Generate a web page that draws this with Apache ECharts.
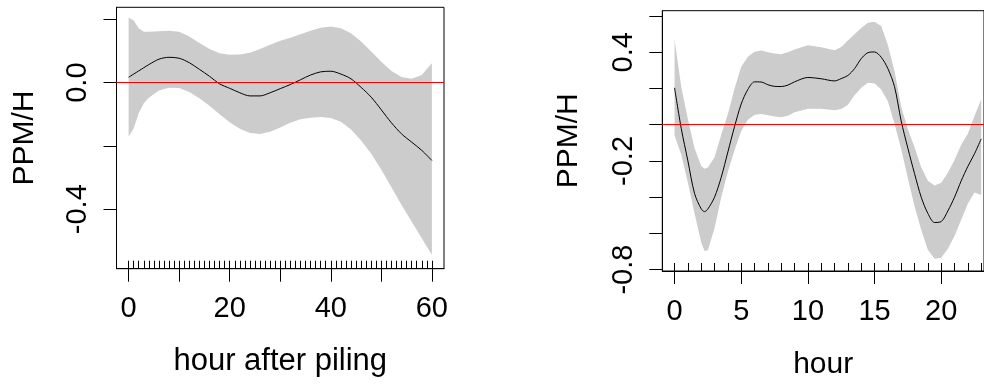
<!DOCTYPE html>
<html>
<head>
<meta charset="utf-8">
<script src="https://cdn.jsdelivr.net/npm/echarts@6/dist/echarts.min.js"></script>
<style>
html,body{margin:0;padding:0;background:#fff;}
#c{width:984px;height:385px;}
</style>
</head>
<body>
<div id="c"></div>
<script>
// ---- Left panel: hour after piling ----
const leftX = [0,1,2,3,4,6,8,10,12,14,16,18,20,22,24,26,28,30,32,34,36,38,40,42,44,46,48,50,52,54,56,58,60];
const leftMean = [0.017,0.027,0.037,0.047,0.057,0.074,0.080,0.077,0.063,0.042,0.020,-0.004,-0.018,-0.032,-0.042,-0.042,-0.032,-0.019,-0.006,0.009,0.024,0.034,0.036,0.027,0.012,-0.015,-0.046,-0.086,-0.127,-0.162,-0.188,-0.214,-0.246];
const leftUpper = [0.206,0.196,0.172,0.161,0.161,0.162,0.164,0.161,0.146,0.125,0.106,0.093,0.088,0.089,0.094,0.106,0.120,0.132,0.142,0.153,0.164,0.173,0.177,0.172,0.156,0.130,0.098,0.066,0.037,0.018,0.012,0.024,0.061];
const leftLower = [-0.171,-0.144,-0.097,-0.065,-0.048,-0.025,-0.016,-0.017,-0.030,-0.049,-0.073,-0.100,-0.125,-0.146,-0.159,-0.162,-0.155,-0.142,-0.127,-0.116,-0.111,-0.109,-0.112,-0.124,-0.148,-0.183,-0.225,-0.275,-0.331,-0.387,-0.439,-0.492,-0.544];
const leftRug = [0,1,2,3,4,5,6,7,8,9,10,11,12,13,14,15,16,17,18,19,20,21,22,23,24,25,26,27,28,29,30,31,32,33,34,35,36,37,38,39,40,41,42,43,44,45,46,47,48,49,50,51,52,53,54,55,56,57,58,59,60];
const leftXTicks = [0,10,20,30,40,50,60];
const leftXLabels = [0,20,40,60];
const leftYTicks = [-0.4,-0.2,0,0.2];
const leftYLabels = [-0.4,0];

// ---- Right panel: hour ----
const rightX = [0,0.5,1,1.5,2,2.25,2.5,3,3.5,4,4.5,5,5.5,6,6.5,7,7.5,8,8.5,9,10,11,12,12.5,13,13.5,14,14.5,15,15.5,16,16.5,17,17.5,18,18.5,19,19.5,20,20.5,21,21.5,22,22.5,23];
const rightMean = [0.204,-0.020,-0.200,-0.380,-0.465,-0.480,-0.465,-0.400,-0.290,-0.150,-0.010,0.115,0.195,0.237,0.236,0.221,0.212,0.211,0.219,0.237,0.261,0.254,0.242,0.255,0.272,0.310,0.365,0.398,0.402,0.373,0.310,0.210,0.020,-0.130,-0.270,-0.400,-0.490,-0.540,-0.535,-0.476,-0.400,-0.310,-0.230,-0.160,-0.078];
const rightUpper = [0.469,0.210,0.030,-0.130,-0.228,-0.243,-0.236,-0.180,-0.055,0.060,0.200,0.320,0.375,0.403,0.410,0.400,0.393,0.390,0.400,0.415,0.439,0.428,0.412,0.430,0.465,0.500,0.535,0.564,0.569,0.545,0.440,0.295,0.100,-0.025,-0.125,-0.235,-0.310,-0.335,-0.320,-0.265,-0.195,-0.110,-0.050,0.050,0.140];
const rightLower = [-0.060,-0.165,-0.320,-0.490,-0.650,-0.698,-0.693,-0.570,-0.400,-0.260,-0.140,-0.035,0.027,0.055,0.060,0.053,0.045,0.041,0.050,0.069,0.089,0.088,0.080,0.087,0.110,0.163,0.205,0.232,0.228,0.195,0.130,0.005,-0.135,-0.295,-0.450,-0.580,-0.690,-0.740,-0.735,-0.685,-0.615,-0.525,-0.435,-0.375,-0.388];
const rightRug = [0,1,2,3,4,5,6,7,8,9,10,11,12,13,14,15,16,17,18,19,20,21,22,23];
const rightXTicks = [0,5,10,15,20];
const rightXLabels = [0,5,10,15,20];
const rightYTicks = [-0.8,-0.6,-0.4,-0.2,0,0.2,0.4,0.6];
const rightYLabels = [-0.8,-0.2,0.4];

const FONT = 'Liberation Sans, Arial, sans-serif';
const TXT = '#000';

function bandSeries(xs, lo, up, xi, yi) {
  return {
    type: 'custom', xAxisIndex: xi, yAxisIndex: yi, silent: true, z: 1,
    data: xs.map((v, i) => [v, lo[i], up[i]]),
    encode: { x: 0, y: [1, 2] },
    renderItem: function (params, api) {
      if (params.dataIndex !== 0) return null;
      const pts = [];
      for (let i = 0; i < xs.length; i++) pts.push(api.coord([xs[i], up[i]]));
      for (let i = xs.length - 1; i >= 0; i--) pts.push(api.coord([xs[i], lo[i]]));
      return { type: 'polygon', shape: { points: pts }, style: { fill: '#cccccc', stroke: null } };
    }
  };
}

function meanSeries(xs, ys, xi, yi) {
  return {
    type: 'line', xAxisIndex: xi, yAxisIndex: yi, z: 3,
    data: xs.map((v, i) => [v, ys[i]]),
    showSymbol: false, symbol: 'none', smooth: 0.3,
    lineStyle: { color: '#000', width: 1 },
    markLine: {
      silent: true, symbol: ['none', 'none'], label: { show: false }, z: 4,
      lineStyle: { color: '#ff0000', width: 1.2, type: 'solid' },
      data: [{ yAxis: 0 }]
    }
  };
}

function mainX(grid, min, max, ticks, labels) {
  return {
    type: 'value', gridIndex: grid, position: 'bottom', min: min, max: max,
    axisLine: { show: true, onZero: false, lineStyle: { color: '#000', width: 1 } },
    axisTick: { show: true, inside: false, length: 13, customValues: ticks, lineStyle: { color: '#000', width: 1 } },
    axisLabel: { show: true, customValues: labels, margin: 26, color: TXT, fontSize: 29, fontFamily: FONT },
    splitLine: { show: false }
  };
}
function rugX(grid, min, max, rug) {
  return {
    type: 'value', gridIndex: grid, position: 'bottom', min: min, max: max, z: 5,
    axisLine: { show: false, onZero: false },
    axisTick: { show: true, inside: true, length: 8, customValues: rug, lineStyle: { color: '#000', width: 1 } },
    axisLabel: { show: false },
    splitLine: { show: false }
  };
}
function mainY(grid, min, max, ticks, labels, fmt) {
  return {
    type: 'value', gridIndex: grid, position: 'left', min: min, max: max,
    name: 'PPM/H', nameLocation: 'middle', nameGap: 77, nameRotate: 90,
    nameTextStyle: { color: TXT, fontSize: 30, fontFamily: FONT },
    axisLine: { show: true, onZero: false, lineStyle: { color: '#000', width: 1 } },
    axisTick: { show: true, inside: false, length: 13, customValues: ticks, lineStyle: { color: '#000', width: 1 } },
    axisLabel: { show: true, customValues: labels, rotate: 90, margin: 24, color: TXT, fontSize: 29, fontFamily: FONT,
      formatter: fmt },
    splitLine: { show: false }
  };
}
const fmt1 = v => (Math.abs(v) < 1e-9 ? '0.0' : v.toFixed(1));

const xL = mainX(0, -2.4, 62.4, leftXTicks, leftXLabels);
xL.name = 'hour after piling'; xL.nameLocation = 'middle'; xL.nameGap = 77;
xL.nameTextStyle = { color: TXT, fontSize: 31, fontFamily: FONT };
const xR = mainX(1, -0.92, 23.21, rightXTicks, rightXLabels);
xR.name = 'hour'; xR.nameLocation = 'middle'; xR.nameGap = 79;
xR.nameTextStyle = { color: TXT, fontSize: 30, fontFamily: FONT };

const yL = mainY(0, -0.588, 0.238, leftYTicks, leftYLabels, fmt1);
const yR = mainY(1, -0.808, 0.63, rightYTicks, rightYLabels, fmt1);
yR.nameGap = 79;

const chart = echarts.init(document.getElementById('c'), null, { renderer: 'canvas' });
chart.setOption({
  animation: false,
  backgroundColor: '#ffffff',
  grid: [
    { left: 116.5, top: 7.3, width: 327.5, height: 261.4, show: true, borderColor: '#000', borderWidth: 1, backgroundColor: 'transparent' },
    { left: 662.3, top: 10.7, width: 321.7, height: 262.6, show: true, borderColor: '#000', borderWidth: 1, backgroundColor: 'transparent' }
  ],
  xAxis: [xL, xR, rugX(0, -2.4, 62.4, leftRug), rugX(1, -0.92, 23.21, rightRug)],
  yAxis: [yL, yR],
  series: [
    bandSeries(leftX, leftLower, leftUpper, 0, 0),
    meanSeries(leftX, leftMean, 0, 0),
    bandSeries(rightX, rightLower, rightUpper, 1, 1),
    meanSeries(rightX, rightMean, 1, 1)
  ]
});
</script>
</body>
</html>
